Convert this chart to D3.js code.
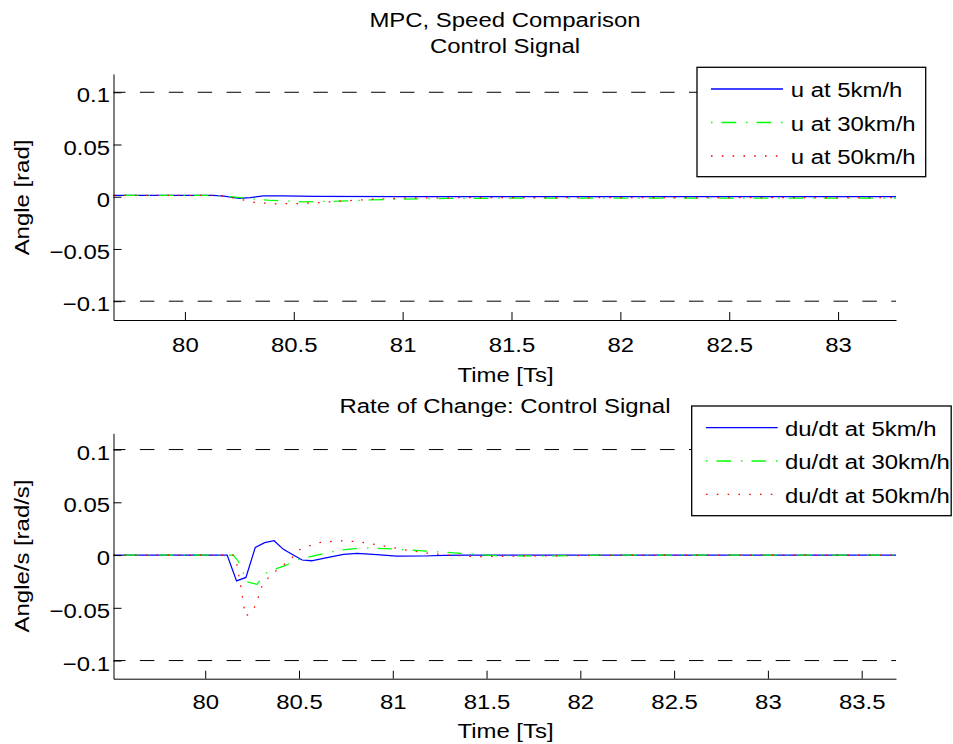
<!DOCTYPE html>
<html><head><meta charset="utf-8">
<script src="https://cdn.jsdelivr.net/npm/d3@7"></script>
<style>
body{margin:0;background:#fff}
svg{display:block}
text{font-family:"Liberation Sans",Arial,Helvetica,sans-serif;fill:#000}
</style>
</head><body><svg id="c" width="953" height="744"></svg>
<script>
// ---------- data ----------
const yTicks = [-0.1, -0.05, 0, 0.05, 0.1];
const yTickLabels = ["\u22120.1", "\u22120.05", "0", "0.05", "0.1"];
const topXTicks = [80, 80.5, 81, 81.5, 82, 82.5, 83];
const topXTickLabels = ["80", "80.5", "81", "81.5", "82", "82.5", "83"];
const bottomXTicks = [80, 80.5, 81, 81.5, 82, 82.5, 83, 83.5];
const bottomXTickLabels = ["80", "80.5", "81", "81.5", "82", "82.5", "83", "83.5"];
const limitLines = [0.1, -0.1];

// top panel: control signal u
const topTime5 = [79.672, 80.13, 80.18, 80.25, 80.3, 80.36, 80.45, 80.6, 81.0, 83.266];
const topU5 = [0.0013, 0.0013, 0.0005, -0.0015, -0.0008, 0.0008, 0.0008, 0.0003, 0.0, 0.0];
const topTime30 = [79.672, 80.15, 80.22, 80.3, 80.4, 80.55, 80.7, 80.85, 81.0, 81.2, 81.5, 82.0, 83.266];
const topU30 = [0.0012, 0.0012, -0.0002, -0.0018, -0.0036, -0.0048, -0.0043, -0.0031, -0.0022, -0.0016, -0.0014, -0.0014, -0.0013];
const topTime50 = [79.672, 80.15, 80.2, 80.25, 80.32, 80.42, 80.52, 80.62, 80.72, 80.86, 81.0, 81.3, 82.0, 83.266];
const topU50 = [0.0012, 0.0012, 0.0, -0.0022, -0.0055, -0.0068, -0.0065, -0.0055, -0.0041, -0.0024, -0.0012, -0.0009, -0.0008, -0.0008];

// bottom panel: du/dt
const botTime5 = [79.511, 80.117, 80.167, 80.217, 80.267, 80.317, 80.367, 80.417, 80.467, 80.517, 80.567, 80.63, 80.737, 80.809, 80.915, 81.02, 81.164, 81.27, 81.4, 83.683];
const botDu5 = [0, 0, -0.0245, -0.0212, 0.0073, 0.0117, 0.0136, 0.0054, 0.0003, -0.0047, -0.0054, -0.0032, 0.0006, 0.0016, 0.0003, -0.001, -0.0009, -0.0003, 0, 0];
const botTime30 = [79.511, 80.15, 80.178, 80.222, 80.276, 80.32, 80.37, 80.426, 80.489, 80.596, 80.72, 80.844, 81.005, 81.18, 81.36, 81.55, 81.8, 82.2, 83.683];
const botDu30 = [0, 0, -0.0063, -0.0253, -0.0278, -0.0174, -0.0135, -0.0101, -0.0047, 0, 0.0047, 0.0069, 0.0057, 0.0038, 0.0016, -0.0006, -0.0008, 0, 0];
const botTime50 = [79.511, 80.15, 80.167, 80.187, 80.205, 80.215, 80.24, 80.27, 80.288, 80.307, 80.341, 80.382, 80.453, 80.497, 80.551, 80.6, 80.71, 80.822, 80.933, 81.049, 81.164, 81.27, 81.448, 81.626, 82.0, 82.3, 83.683];
const botDu50 = [0, 0, -0.0073, -0.027, -0.0474, -0.0578, -0.0553, -0.0474, -0.037, -0.0275, -0.0205, -0.0142, -0.0047, 0.0047, 0.0085, 0.0117, 0.0136, 0.0126, 0.0092, 0.0054, 0.0022, 0.0003, -0.0016, -0.001, -0.0005, 0, 0];

const topLegend = ["u at 5km/h", "u at 30km/h", "u at 50km/h"];
const bottomLegend = ["du/dt at 5km/h", "du/dt at 30km/h", "du/dt at 50km/h"];
const seriesColors = ["#0000ff", "#00ff00", "#ff0000"];
const seriesDashes = [null, "1.5,9,14.5,10", "1.6,9.2"];

// ---------- drawing ----------
const svg = d3.select("#c");
const FS = 20.8, SX = 1.15;

function label(str, x, y, anchor, rot) {
  return svg.append("text")
    .attr("transform", `translate(${x},${y})` + (rot ? ` rotate(${rot})` : "") + ` scale(${SX},1)`)
    .attr("text-anchor", anchor).attr("font-size", FS).text(str);
}

function panel(cfg) {
  const x = d3.scaleLinear().domain(cfg.xDomain).range([113.5, 896]);
  const y = d3.scaleLinear().domain(cfg.yDomain).range([cfg.bottom, cfg.top]);
  const g = svg.append("g");

  g.selectAll("line.lim").data(limitLines).join("line").attr("class", "lim")
    .attr("x1", x.range()[0]).attr("x2", x.range()[1])
    .attr("y1", d => y(d)).attr("y2", d => y(d))
    .attr("stroke", "#000").attr("stroke-width", 1)
    .attr("stroke-dasharray", "14.5,14.4").attr("stroke-dashoffset", 2.5);

  const line = d3.line().x(d => x(d[0])).y(d => y(d[1]));
  cfg.series.forEach((s, i) => {
    g.append("path").datum(d3.zip(s.t, s.v)).attr("d", line)
      .attr("fill", "none").attr("stroke", seriesColors[i]).attr("stroke-width", 1.25)
      .attr("stroke-dasharray", seriesDashes[i]);
  });

  const xa = g.append("g").attr("transform", `translate(0,${cfg.bottom})`)
    .call(d3.axisBottom(x).tickValues(cfg.xTicks).tickFormat((d, i) => cfg.xLabels[i])
      .tickSizeInner(-8).tickSizeOuter(0));
  xa.attr("font-size", FS).attr("font-family", null);
  xa.selectAll(".tick text").attr("y", null).attr("dy", null)
    .attr("transform", `translate(0,${cfg.xLabelDy}) scale(${SX},1)`);

  const ya = g.append("g").attr("transform", `translate(113.5,0)`)
    .call(d3.axisLeft(y).tickValues(yTicks).tickFormat((d, i) => yTickLabels[i])
      .tickSizeInner(-8).tickSizeOuter(0));
  ya.attr("font-size", FS).attr("font-family", null);
  ya.selectAll(".tick text").attr("x", null).attr("dy", null)
    .attr("transform", `translate(-3.5,9.6) scale(${SX},1)`);

  g.selectAll(".domain, .tick line").attr("stroke", "#000").attr("stroke-width", 1);

  // legend
  const L = cfg.legend;
  g.append("rect").attr("x", L.x).attr("y", L.y).attr("width", L.w).attr("height", L.h)
    .attr("fill", "#fff").attr("stroke", "#000").attr("stroke-width", 1.3);
  L.labels.forEach((t, i) => {
    const ly = L.rowY[i];
    g.append("line").attr("x1", L.lx1).attr("x2", L.lx2).attr("y1", ly).attr("y2", ly)
      .attr("stroke", seriesColors[i]).attr("stroke-width", 1.3)
      .attr("stroke-dasharray", seriesDashes[i]);
    g.append("text").attr("transform", `translate(${L.tx},${ly + 8.3}) scale(${SX},1)`)
      .attr("font-size", FS).text(t);
  });
}

panel({
  xDomain: [79.672, 83.266], yDomain: [-0.118, 0.1175], top: 74, bottom: 320,
  xTicks: topXTicks, xLabels: topXTickLabels, xLabelDy: 31.5,
  series: [{t: topTime5, v: topU5}, {t: topTime30, v: topU30}, {t: topTime50, v: topU50}],
  legend: {x: 697, y: 67.3, w: 228.7, h: 109.4, lx1: 711, lx2: 783, tx: 790.7,
           rowY: [89, 122.5, 156], labels: topLegend}
});
panel({
  xDomain: [79.511, 83.683], yDomain: [-0.1172, 0.1154], top: 433.3, bottom: 678.7,
  xTicks: bottomXTicks, xLabels: bottomXTickLabels, xLabelDy: 30,
  series: [{t: botTime5, v: botDu5}, {t: botTime30, v: botDu30}, {t: botTime50, v: botDu50}],
  legend: {x: 691.7, y: 406, w: 259.5, h: 109.7, lx1: 706, lx2: 777.7, tx: 785,
           rowY: [427.7, 461, 494.3], labels: bottomLegend}
});

label("MPC, Speed Comparison", 505, 26.7, "middle");
label("Control Signal", 505, 53, "middle");
label("Rate of Change: Control Signal", 505, 413.3, "middle");
label("Time [Ts]", 505.5, 381.7, "middle");
label("Time [Ts]", 505.5, 738, "middle");
label("Angle [rad]", 28.5, 197.5, "middle", -90);
label("Angle/s [rad/s]", 28.5, 556, "middle", -90);
</script>
</body></html>
